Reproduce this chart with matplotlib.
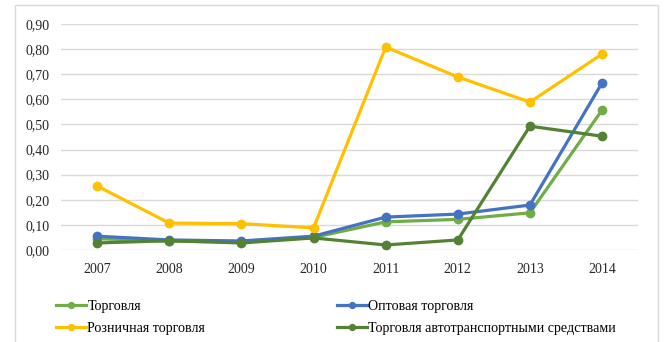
import matplotlib.pyplot as plt
from matplotlib.patches import Rectangle
from matplotlib.ticker import FuncFormatter

plt.rcParams['font.family'] = ['Liberation Serif', 'DejaVu Serif']

years = ["2007", "2008", "2009", "2010", "2011", "2012", "2013", "2014"]
torg = [0.045, 0.035, 0.032, 0.050, 0.112, 0.122, 0.148, 0.557]
opt = [0.055, 0.040, 0.036, 0.055, 0.131, 0.143, 0.179, 0.665]
rozn = [0.255, 0.107, 0.105, 0.088, 0.808, 0.689, 0.589, 0.780]
avto = [0.028, 0.037, 0.028, 0.048, 0.020, 0.040, 0.493, 0.453]

names = ["Торговля", "Оптовая торговля", "Розничная торговля",
         "Торговля автотранспортными средствами"]
colors = ["#70AD47", "#4472C4", "#FFC000", "#548235"]

fig = plt.figure(figsize=(6.64, 3.42), dpi=100)
ax = fig.add_axes([0.092, 0.269, 0.869, 0.661])

# frame around the chart
fig.patches.append(Rectangle((15 / 664, -0.01), 643 / 664, 1 - 5 / 342 + 0.01,
                             transform=fig.transFigure, fill=False,
                             edgecolor="#d9d9d9", linewidth=1))

x = range(len(years))
lines = {}
for name, vals, c in zip(names, [torg, opt, rozn, avto], colors):
    lines[name], = ax.plot(x, vals, color=c, linewidth=2.3, marker="o",
                           markersize=6, label=name)

ax.set_xlim(-0.5, 7.5)
ax.set_ylim(0, 0.9)
ax.set_yticks([i / 10 for i in range(10)])
ax.yaxis.set_major_formatter(FuncFormatter(lambda v, p: f"{v:.2f}".replace(".", ",")))
ax.set_xticks(list(x))
ax.set_xticklabels(years)
ax.grid(axis="y", color="#d9d9d9", linewidth=1)
ax.set_axisbelow(True)
for s in ax.spines.values():
    s.set_visible(False)
ax.tick_params(length=0, labelsize=10, colors="#262626")
ax.tick_params(axis="y", pad=8)
ax.tick_params(axis="x", pad=9)

order = ["Торговля", "Розничная торговля", "Оптовая торговля",
         "Торговля автотранспортными средствами"]
fig.legend([lines[n] for n in order], order, ncol=2, loc="lower left",
           bbox_to_anchor=(0.066, -0.015), frameon=False, fontsize=10.1,
           handlelength=2.1, handletextpad=0.1, columnspacing=9.4,
           labelspacing=0.62, markerscale=0.7)

fig.savefig("out.png", dpi=100)
